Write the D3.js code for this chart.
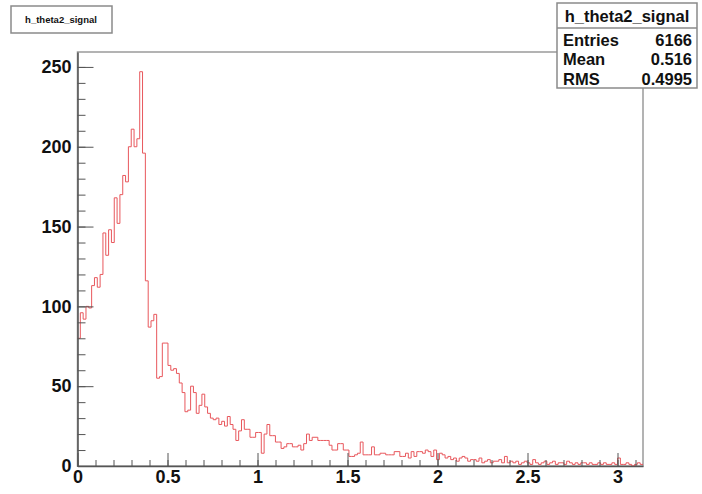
<!DOCTYPE html>
<html>
<head>
<meta charset="utf-8">
<script src="https://cdn.jsdelivr.net/npm/d3@7"></script>
<style>
  body { margin: 0; background: #fff; }
  svg text { font-family: "Liberation Sans", Arial, sans-serif; font-weight: bold; fill: #111; }
</style>
</head>
<body>
<svg id="chart" width="702" height="494"></svg>
<script>
// histogram h_theta2_signal, 200 bins on [0, pi]
const histName = "h_theta2_signal";
const xRange = [0, Math.PI];
const binCounts = [
  80, 96, 92, 100, 99, 113, 118, 112, 120, 146,
  132, 148, 140, 168, 152, 170, 182, 178, 200, 211,
  200, 205, 247, 196, 116, 87, 91, 95, 55, 56,
  77, 77, 63, 60, 61, 58, 52, 46, 34, 35,
  50, 46, 33, 38, 45, 37, 33, 30, 29, 30,
  26, 28, 25, 31, 26, 23, 16, 22, 29, 23,
  23, 18, 18, 21, 21, 8, 20, 26, 19, 19,
  15, 15, 11, 12, 14, 14, 12, 12, 13, 10,
  14, 20, 16, 18, 18, 16, 16, 16, 16, 13,
  10, 10, 14, 14, 10, 10, 6, 6, 7, 8,
  15, 7, 7, 7, 12, 7, 7, 8, 8, 7,
  7, 7, 9, 9, 6, 6, 8, 5, 9, 6,
  9, 9, 8, 10, 9, 6, 10, 4, 8, 7,
  5, 6, 4, 5, 3, 5, 6, 5, 3, 4,
  4, 3, 5, 2, 3, 4, 2, 3, 3, 4,
  2, 6, 2, 3, 2, 3, 1, 2, 3, 2,
  1, 4, 2, 1, 2, 3, 1, 2, 3, 1,
  2, 2, 1, 3, 2, 1, 2, 1, 2, 2,
  1, 2, 1, 1, 2, 1, 2, 1, 1, 2,
  1, 5, 1, 1, 2, 1, 0, 1, 2, 1
];
const xTicks = [0, 0.5, 1, 1.5, 2, 2.5, 3];
const yTicks = [0, 50, 100, 150, 200, 250];
const statLabels = ["Entries", "Mean", "RMS"];
const statValues = ["6166", "0.516", "0.4995"];

const svg = d3.select("#chart");
const frame = { left: 77.5, right: 643, top: 52, bottom: 466 };

const nBins = binCounts.length;
const binWidth = (xRange[1] - xRange[0]) / nBins;
const yMax = d3.max(binCounts) * 1.05;

const x = d3.scaleLinear().domain(xRange).range([frame.left, frame.right]);
const y = d3.scaleLinear().domain([0, yMax]).range([frame.bottom, frame.top]);

// frame
svg.append("rect")
  .attr("x", frame.left).attr("y", frame.top)
  .attr("width", frame.right - frame.left)
  .attr("height", frame.bottom - frame.top)
  .attr("fill", "#fff")
  .attr("stroke", "#9a9a9a")
  .attr("stroke-width", 1.5);

// histogram outline
const pts = binCounts.map((c, i) => [xRange[0] + i * binWidth, c]);
pts.push([xRange[1], binCounts[nBins - 1]]);
const line = d3.line()
  .x(d => x(d[0]))
  .y(d => y(d[1]))
  .curve(d3.curveStepAfter);
svg.append("path")
  .datum(pts)
  .attr("d", line)
  .attr("fill", "none")
  .attr("stroke", "#e8575c")
  .attr("stroke-width", 1);

// axes: minor ticks first, then major with labels
const minorX = d3.range(0, 3.15, 0.1);
const minorY = d3.range(0, 251, 10);

svg.append("g")
  .attr("transform", `translate(0,${frame.bottom})`)
  .call(d3.axisBottom(x).tickValues(minorX).tickFormat("").tickSize(-6).tickSizeOuter(0))
  .call(g => g.select(".domain").remove())
  .selectAll("line").attr("stroke", "#555");
svg.append("g")
  .attr("transform", `translate(${frame.left},0)`)
  .call(d3.axisLeft(y).tickValues(minorY).tickFormat("").tickSize(-8).tickSizeOuter(0))
  .call(g => g.select(".domain").remove())
  .selectAll("line").attr("stroke", "#555");

const xAxis = svg.append("g")
  .attr("transform", `translate(0,${frame.bottom})`)
  .call(d3.axisBottom(x).tickValues(xTicks).tickFormat(d3.format("")).tickSize(-13).tickSizeOuter(0).tickPadding(4));
const yAxis = svg.append("g")
  .attr("transform", `translate(${frame.left},0)`)
  .call(d3.axisLeft(y).tickValues(yTicks).tickSize(-16).tickSizeOuter(0).tickPadding(6));

[xAxis, yAxis].forEach(g => {
  g.attr("font-family", null).attr("font-size", null);
  g.select(".domain").attr("stroke", "#555").attr("stroke-width", 1.5);
  g.selectAll(".tick line").attr("stroke", "#555");
  g.selectAll(".tick text").style("font-size", "18px").attr("fill", "#111");
});

// title box
const title = svg.append("g");
title.append("rect")
  .attr("x", 11).attr("y", 6).attr("width", 101).attr("height", 27)
  .attr("fill", "#fff").attr("stroke", "#8a8a8a").attr("stroke-width", 1.5);
title.append("text")
  .attr("x", 61).attr("y", 20).attr("dy", "0.35em")
  .attr("text-anchor", "middle")
  .style("font-size", "9.5px")
  .text(histName);

// stats box
const sb = { x: 557, y: 3, w: 140, h: 85, head: 25 };
const stats = svg.append("g");
stats.append("rect")
  .attr("x", sb.x).attr("y", sb.y).attr("width", sb.w).attr("height", sb.h)
  .attr("fill", "#fff").attr("stroke", "#8a8a8a").attr("stroke-width", 1.5);
stats.append("line")
  .attr("x1", sb.x).attr("x2", sb.x + sb.w)
  .attr("y1", sb.y + sb.head).attr("y2", sb.y + sb.head)
  .attr("stroke", "#8a8a8a").attr("stroke-width", 1.5);
stats.append("text")
  .attr("x", sb.x + sb.w / 2).attr("y", sb.y + 13).attr("dy", "0.35em")
  .attr("text-anchor", "middle")
  .style("font-size", "16.5px")
  .text(histName);

const rowY = d3.scalePoint().domain(statLabels).range([40, 79]);
statLabels.forEach((lab, i) => {
  stats.append("text")
    .attr("x", sb.x + 6).attr("y", rowY(lab)).attr("dy", "0.35em")
    .style("font-size", "16.5px")
    .text(lab);
  stats.append("text")
    .attr("x", sb.x + sb.w - 5).attr("y", rowY(lab)).attr("dy", "0.35em")
    .attr("text-anchor", "end")
    .style("font-size", "16.5px")
    .text(statValues[i]);
});
</script>
</body>
</html>
